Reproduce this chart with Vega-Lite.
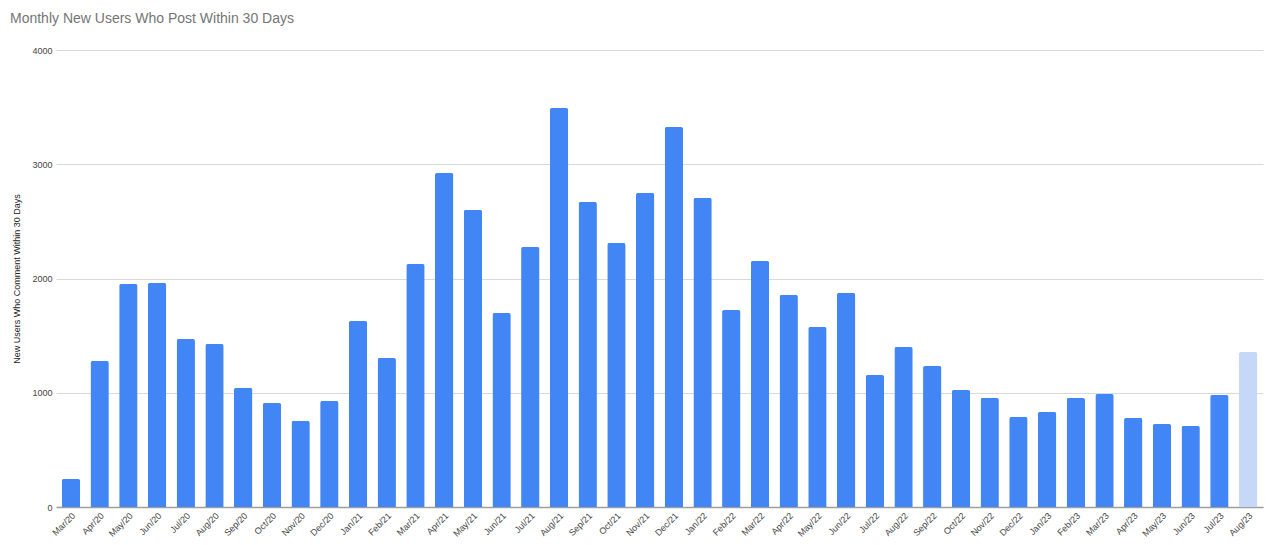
{
  "$schema": "https://vega.github.io/schema/vega-lite/v6.json",
  "autosize": "none",
  "width": 1207,
  "height": 457,
  "padding": {"left": 56, "top": 50, "right": 17, "bottom": 38},
  "background": "white",
  "title": {
    "text": "Monthly New Users Who Post Within 30 Days",
    "anchor": "start",
    "frame": "group",
    "dx": -46,
    "offset": 20,
    "font": "Liberation Sans",
    "fontSize": 14,
    "fontWeight": "normal",
    "color": "#757575"
  },
  "data": {
    "values": [
      {"month": "Mar/20", "users": 245, "partial": "no"},
      {"month": "Apr/20", "users": 1278, "partial": "no"},
      {"month": "May/20", "users": 1952, "partial": "no"},
      {"month": "Jun/20", "users": 1961, "partial": "no"},
      {"month": "Jul/20", "users": 1470, "partial": "no"},
      {"month": "Aug/20", "users": 1427, "partial": "no"},
      {"month": "Sep/20", "users": 1042, "partial": "no"},
      {"month": "Oct/20", "users": 910, "partial": "no"},
      {"month": "Nov/20", "users": 753, "partial": "no"},
      {"month": "Dec/20", "users": 928, "partial": "no"},
      {"month": "Jan/21", "users": 1628, "partial": "no"},
      {"month": "Feb/21", "users": 1304, "partial": "no"},
      {"month": "Mar/21", "users": 2127, "partial": "no"},
      {"month": "Apr/21", "users": 2923, "partial": "no"},
      {"month": "May/21", "users": 2600, "partial": "no"},
      {"month": "Jun/21", "users": 1698, "partial": "no"},
      {"month": "Jul/21", "users": 2276, "partial": "no"},
      {"month": "Aug/21", "users": 3492, "partial": "no"},
      {"month": "Sep/21", "users": 2670, "partial": "no"},
      {"month": "Oct/21", "users": 2311, "partial": "no"},
      {"month": "Nov/21", "users": 2748, "partial": "no"},
      {"month": "Dec/21", "users": 3326, "partial": "no"},
      {"month": "Jan/22", "users": 2705, "partial": "no"},
      {"month": "Feb/22", "users": 1724, "partial": "no"},
      {"month": "Mar/22", "users": 2153, "partial": "no"},
      {"month": "Apr/22", "users": 1856, "partial": "no"},
      {"month": "May/22", "users": 1575, "partial": "no"},
      {"month": "Jun/22", "users": 1873, "partial": "no"},
      {"month": "Jul/22", "users": 1155, "partial": "no"},
      {"month": "Aug/22", "users": 1400, "partial": "no"},
      {"month": "Sep/22", "users": 1234, "partial": "no"},
      {"month": "Oct/22", "users": 1024, "partial": "no"},
      {"month": "Nov/22", "users": 954, "partial": "no"},
      {"month": "Dec/22", "users": 788, "partial": "no"},
      {"month": "Jan/23", "users": 832, "partial": "no"},
      {"month": "Feb/23", "users": 954, "partial": "no"},
      {"month": "Mar/23", "users": 989, "partial": "no"},
      {"month": "Apr/23", "users": 779, "partial": "no"},
      {"month": "May/23", "users": 726, "partial": "no"},
      {"month": "Jun/23", "users": 709, "partial": "no"},
      {"month": "Jul/23", "users": 980, "partial": "no"},
      {"month": "Aug/23", "users": 1357, "partial": "yes"}
    ]
  },
  "mark": {"type": "bar", "cornerRadiusTopLeft": 2, "cornerRadiusTopRight": 2},
  "encoding": {
    "x": {
      "field": "month",
      "type": "nominal",
      "sort": null,
      "scale": {"paddingInner": 0.36, "paddingOuter": 0.2},
      "axis": {
        "title": null,
        "labelAngle": -45,
        "labelFont": "Liberation Sans",
        "labelFontSize": 9,
        "labelColor": "#444444",
        "ticks": false,
        "labelPadding": 4,
        "domainColor": "#9e9e9e",
        "domainWidth": 1.5,
        "grid": false
      }
    },
    "y": {
      "field": "users",
      "type": "quantitative",
      "scale": {"domain": [0, 4000], "nice": false},
      "axis": {
        "title": "New Users Who Comment Within 30 Days",
        "titleFont": "Liberation Sans",
        "titleFontSize": 9,
        "titleFontWeight": "normal",
        "titleColor": "#222222",
        "titlePadding": 10,
        "values": [0, 1000, 2000, 3000, 4000],
        "format": "d",
        "labelFont": "Liberation Sans",
        "labelFontSize": 9,
        "labelColor": "#444444",
        "labelPadding": 4,
        "ticks": false,
        "domain": false,
        "gridColor": "#d9d9d9",
        "gridWidth": 1
      }
    },
    "color": {
      "field": "partial",
      "type": "nominal",
      "scale": {"domain": ["no", "yes"], "range": ["#4285f4", "#c6d8f8"]},
      "legend": null
    }
  },
  "config": {"view": {"stroke": null}}
}
